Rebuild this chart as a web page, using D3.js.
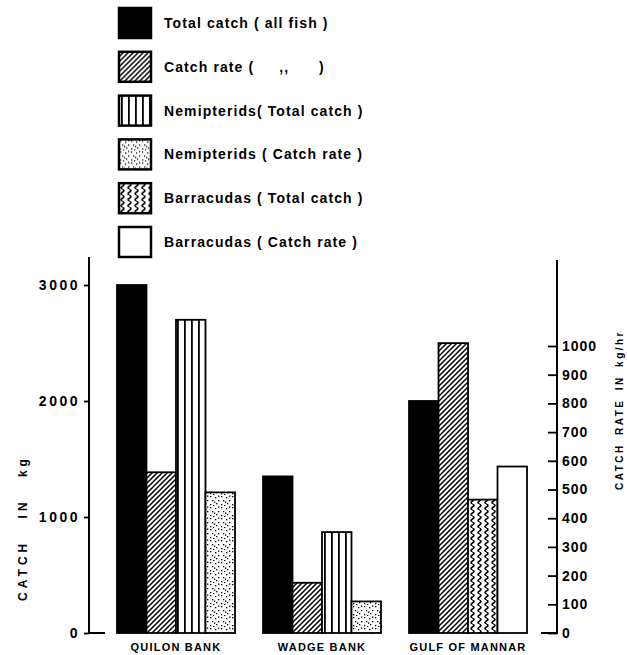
<!DOCTYPE html>
<html>
  <head>
    <meta charset="utf-8">
    <title>Catch and catch rate</title>
    <style>
    body { margin: 0; background: #fff; }
    svg text { fill: #000; }
    .legend text { font: bold 14px "Liberation Sans", Arial, sans-serif; letter-spacing: 1.1px; }
    .tick text { font: bold 14px "Liberation Sans", Arial, sans-serif; }
    .bank { font: bold 11px "Liberation Sans", Arial, sans-serif; letter-spacing: 1.2px; }
    .title { font: bold 12px "Liberation Sans", Arial, sans-serif; }
    </style>
    <script src="https://d3js.org/d3.v7.min.js"></script>
  </head>
  <body>
    <svg width="627" height="655"></svg>
    <script>
      // values
      var banks = ["QUILON BANK", "WADGE BANK", "GULF OF MANNAR"];
      var totalCatch = [3000, 1350, 2000];      // kg, left axis
      var catchRate = [560, 175, 1010];         // kg/hr, right axis
      var nemiTotal = [2700, 870, null];        // kg
      var nemiRate = [490, 110, null];          // kg/hr
      var barraTotal = [null, null, 1150];      // kg
      var barraRate = [null, null, 580];        // kg/hr
      var leftTicks = [0, 1000, 2000, 3000];
      var rightTicks = [0, 100, 200, 300, 400, 500, 600, 700, 800, 900, 1000];

      var series = [
        {name: "Total catch ( all fish )", values: totalCatch, axis: "L", fill: "#000"},
        {name: "Catch rate (     ,,      )", values: catchRate, axis: "R", fill: "url(#hatch)"},
        {name: "Nemipterids( Total catch )", values: nemiTotal, axis: "L", fill: "url(#vstripe)"},
        {name: "Nemipterids ( Catch rate )", values: nemiRate, axis: "R", fill: "url(#stipple)"},
        {name: "Barracudas ( Total catch )", values: barraTotal, axis: "L", fill: "url(#wavy)"},
        {name: "Barracudas ( Catch rate )", values: barraRate, axis: "R", fill: "#fff"}
      ];

      var svg = d3.select("svg");
      var defs = svg.append("defs");

      var p = defs.append("pattern").attr("id", "hatch").attr("patternUnits", "userSpaceOnUse")
        .attr("width", 5).attr("height", 5);
      p.append("rect").attr("width", 5).attr("height", 5).attr("fill", "#fff");
      p.append("path").attr("d", "M-1,6 L6,-1 M-1,1 L1,-1 M4,6 L6,4").attr("stroke", "#000").attr("stroke-width", 1.5);

      p = defs.append("pattern").attr("id", "vstripe").attr("patternUnits", "userSpaceOnUse")
        .attr("width", 7).attr("height", 10);
      p.append("rect").attr("width", 7).attr("height", 10).attr("fill", "#fff");
      p.append("rect").attr("x", 2).attr("width", 1.8).attr("height", 10).attr("fill", "#000");

      p = defs.append("pattern").attr("id", "wavy").attr("patternUnits", "userSpaceOnUse")
        .attr("width", 7).attr("height", 6);
      p.append("rect").attr("width", 7).attr("height", 6).attr("fill", "#fff");
      p.append("path").attr("d", "M3.5,0 Q6.5,1.5 3.5,3 Q0.5,4.5 3.5,6").attr("fill", "none")
        .attr("stroke", "#000").attr("stroke-width", 1.5);

      p = defs.append("pattern").attr("id", "stipple").attr("patternUnits", "userSpaceOnUse")
        .attr("width", 11).attr("height", 11);
      p.append("rect").attr("width", 11).attr("height", 11).attr("fill", "#fff");
      [[1,1],[6,2],[9,5],[3,5],[7,8],[1,9],[4,10],[9,0.5],[5,6.5]].forEach(function(d) {
        p.append("rect").attr("x", d[0]).attr("y", d[1]).attr("width", 1.3).attr("height", 1.3).attr("fill", "#000");
      });

      var yL = d3.scaleLinear().domain([0, 3000]).range([633, 285]);
      var yR = d3.scaleLinear().domain([0, 1000]).range([633, 346]);
      var x = d3.scaleBand().domain(banks).range([117, 527]).paddingInner(0.192).paddingOuter(0);
      var xs = d3.scaleBand().domain([0, 1, 2, 3]).range([0, x.bandwidth()]);

      // build bars: each bank gets its present series in order
      var bars = [];
      banks.forEach(function(b, i) {
        var slot = 0;
        series.forEach(function(s) {
          if (s.values[i] != null) {
            bars.push({bank: b, slot: slot++, value: s.values[i], axis: s.axis, fill: s.fill});
          }
        });
      });

      svg.append("g").selectAll("rect")
        .data(bars)
        .enter().append("rect")
          .attr("x", function(d) { return x(d.bank) + xs(d.slot); })
          .attr("width", xs.bandwidth())
          .attr("y", function(d) { return (d.axis == "L" ? yL : yR)(d.value); })
          .attr("height", function(d) { return 633 - (d.axis == "L" ? yL : yR)(d.value); })
          .attr("fill", function(d) { return d.fill; })
          .attr("stroke", "#000")
          .attr("stroke-width", 1.8);

      // axes
      var gl = svg.append("g").attr("transform", "translate(89,0)")
        .call(d3.axisLeft(yL).tickValues(leftTicks).tickFormat(d3.format("d")).tickSize(5).tickPadding(4));
      gl.select(".domain").remove();
      gl.selectAll(".tick line").attr("stroke-width", 1.8);
      gl.selectAll(".tick text").attr("letter-spacing", "2.5px");
      svg.append("path").attr("d", "M89,257 L89,633 L105,633").attr("fill", "none").attr("stroke", "#000").attr("stroke-width", 2);

      var gr = svg.append("g").attr("transform", "translate(557,0)")
        .call(d3.axisRight(yR).tickValues(rightTicks).tickFormat(d3.format("d")).tickSizeInner(-9).tickSizeOuter(0).tickPadding(5));
      gr.select(".domain").remove();
      gr.selectAll(".tick line").attr("stroke-width", 1.8);
      gr.selectAll(".tick text").attr("letter-spacing", "1px");
      svg.append("path").attr("d", "M557,260 L557,633 L541,633").attr("fill", "none").attr("stroke", "#000").attr("stroke-width", 2);

      // bank labels
      svg.append("g").selectAll("text")
        .data(banks)
        .enter().append("text")
          .attr("class", "bank")
          .attr("x", function(d) { return x(d) + x.bandwidth() / 2; })
          .attr("y", 651)
          .attr("text-anchor", "middle")
          .text(function(d) { return d; });

      // axis titles
      svg.append("text").attr("class", "title")
        .attr("transform", "translate(27,528) rotate(-90)")
        .attr("text-anchor", "middle")
        .attr("letter-spacing", "4px")
        .attr("word-spacing", "14px")
        .text("CATCH IN kg");
      svg.append("text").attr("class", "title")
        .attr("transform", "translate(623,410) rotate(-90)")
        .attr("text-anchor", "middle")
        .attr("letter-spacing", "2.5px")
        .attr("word-spacing", "3px")
        .style("font-size", "10px")
        .text("CATCH RATE IN kg/hr");

      // legend
      var lg = svg.append("g").attr("class", "legend");
      var row = lg.selectAll("g")
        .data(series)
        .enter().append("g")
          .attr("transform", function(d, i) { return "translate(119," + (8 + i * 43.8) + ")"; });
      row.append("rect")
        .attr("width", 32).attr("height", 30)
        .attr("fill", function(d) { return d.fill; })
        .attr("stroke", "#000").attr("stroke-width", 2.5);
      row.append("text")
        .attr("x", 45).attr("y", 20)
        .style("white-space", "pre")
        .text(function(d) { return d.name; });
    </script>
  </body>
</html>
